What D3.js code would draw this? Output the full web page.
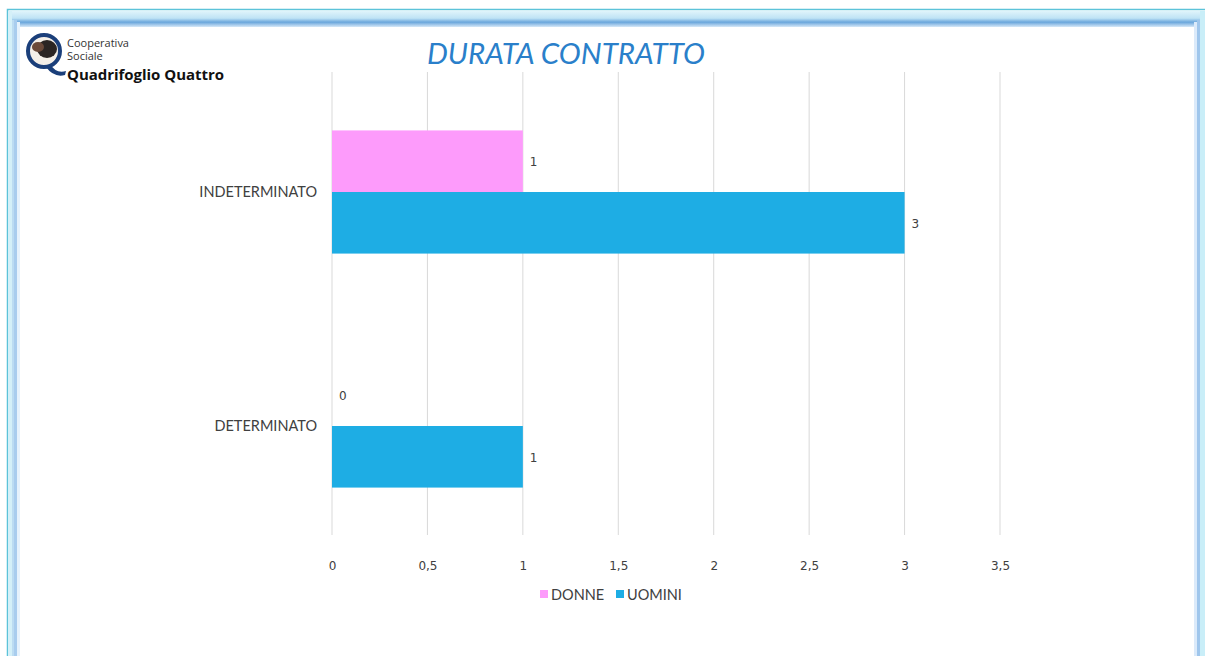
<!DOCTYPE html>
<html>
<head>
<meta charset="utf-8">
<script src="https://cdn.jsdelivr.net/npm/d3@7"></script>
<style>
  body { margin: 0; background: #fff; }
  svg { display: block; }
</style>
</head>
<body>
<script>
const categories = ['INDETERMINATO', 'DETERMINATO']
const series = ['DONNE', 'UOMINI']
const donne = [1, 0]
const uomini = [3, 1]
const xTicks = [0, 0.5, 1, 1.5, 2, 2.5, 3, 3.5]
const colors = ['#fd9bfb', '#1eade4']

const m = { width: 1205, height: 656 }
const plot = { left: 332, right: 1000, top: 75, bottom: 543 }

const svg = d3.select('body').append('svg')
    .attr('width', m.width)
    .attr('height', m.height)

// frame
const defs = svg.append('defs')
const gTop = defs.append('linearGradient').attr('id', 'gtop').attr('x1', 0).attr('y1', 0).attr('x2', 0).attr('y2', 1)
gTop.append('stop').attr('offset', '0%').attr('stop-color', '#dff4fb')
gTop.append('stop').attr('offset', '45%').attr('stop-color', '#bfe3f5')
gTop.append('stop').attr('offset', '70%').attr('stop-color', '#6aa6dc')
gTop.append('stop').attr('offset', '100%').attr('stop-color', '#d6e8f8')

svg.append('rect').attr('x', 7.5).attr('y', 9.5).attr('width', 1210).attr('height', 700)
    .attr('fill', 'none').attr('stroke', '#5cc3d9').attr('stroke-width', 1.5)
svg.append('rect').attr('x', 8).attr('y', 11).attr('width', 1200).attr('height', 16)
    .attr('fill', 'url(#gtop)')
// left border bands
svg.append('rect').attr('x', 8).attr('y', 11).attr('width', 4).attr('height', 650).attr('fill', '#d4f0f8')
svg.append('rect').attr('x', 12).attr('y', 20).attr('width', 2).attr('height', 650).attr('fill', '#bcdcf2')
svg.append('rect').attr('x', 14).attr('y', 20).attr('width', 3).attr('height', 650).attr('fill', '#a9cdee')
svg.append('rect').attr('x', 17).attr('y', 22).attr('width', 3).attr('height', 650).attr('fill', '#e6f2fc')
// right border bands
svg.append('rect').attr('x', 1194).attr('y', 22).attr('width', 3).attr('height', 650).attr('fill', '#dbeafa')
svg.append('rect').attr('x', 1197).attr('y', 20).attr('width', 3).attr('height', 650).attr('fill', '#9fc6ec')
svg.append('rect').attr('x', 1200).attr('y', 11).attr('width', 5).attr('height', 650).attr('fill', '#c9eef8')
svg.append('rect').attr('x', 20).attr('y', 27).attr('width', 1174).attr('height', 640).attr('fill', '#fff')

// logo
const logo = svg.append('g')
logo.append('path').attr('d', 'M50,64 Q56,74 66,71 L65,75 Q54,78 46,67 Z').attr('fill', '#1b3f7a')
logo.append('circle').attr('cx', 44).attr('cy', 51).attr('r', 16)
    .attr('fill', '#f4efe8').attr('stroke', '#1b3f7a').attr('stroke-width', 4)
logo.append('ellipse').attr('cx', 47).attr('cy', 49).attr('rx', 10).attr('ry', 9).attr('fill', '#2b2523')
logo.append('ellipse').attr('cx', 38).attr('cy', 47).attr('rx', 6).attr('ry', 5).attr('fill', '#6b4a3a')
logo.append('text').attr('x', 67).attr('y', 47).text('Cooperativa')
    .attr('font-family', 'Open Sans, sans-serif').attr('font-size', 11).attr('fill', '#333')
logo.append('text').attr('x', 67).attr('y', 60).text('Sociale')
    .attr('font-family', 'Open Sans, sans-serif').attr('font-size', 11).attr('fill', '#333')
logo.append('text').attr('x', 67).attr('y', 79.5).text('Quadrifoglio Quattro')
    .attr('font-family', 'Open Sans, sans-serif').attr('font-weight', 'bold').attr('font-size', 15)
    .attr('textLength', 157).attr('fill', '#111')

// title
svg.append('text').attr('x', 566).attr('y', 64).attr('text-anchor', 'middle')
    .attr('font-family', 'Lato, sans-serif').attr('font-style', 'italic').attr('font-size', 29.5)
    .attr('fill', '#2a7fca').text('DURATA CONTRATTO')

const x = d3.scaleLinear().domain([0, 3.5]).range([plot.left, plot.right])
const y0 = d3.scaleBand().domain(categories).range([plot.top, plot.bottom])
const y1 = d3.scaleBand().domain(series).range([0, y0.bandwidth()]).paddingOuter(0.9)

// gridlines
svg.append('g').selectAll('line').data(xTicks).enter().append('line')
    .attr('x1', d => x(d)).attr('x2', d => x(d))
    .attr('y1', 72).attr('y2', 535)
    .attr('stroke', '#d9d9d9').attr('stroke-width', 1)

// x axis labels
const xAxis = d3.axisBottom(x).tickValues(xTicks).tickSize(0)
    .tickFormat(d => String(d).replace('.', ','))
const xa = svg.append('g').attr('transform', 'translate(0,' + 558 + ')').call(xAxis)
xa.select('.domain').remove()
xa.selectAll('text').attr('font-family', 'DejaVu Sans, sans-serif').attr('font-size', 12).attr('fill', '#404040')

// y axis labels
const yAxis = d3.axisLeft(y0).tickSize(0).tickPadding(15)
const ya = svg.append('g').attr('transform', 'translate(' + plot.left + ',0)').call(yAxis)
ya.select('.domain').remove()
ya.selectAll('text').attr('font-family', 'Lato, sans-serif').attr('font-size', 14.5).attr('fill', '#404040')

const rows = categories.map((c, i) => ({ cat: c, vals: [donne[i], uomini[i]] }))

const groups = svg.append('g').selectAll('g').data(rows).enter().append('g')
    .attr('transform', d => 'translate(0,' + y0(d.cat) + ')')

groups.selectAll('rect').data(d => d.vals.map((v, j) => ({ s: series[j], v: v, j: j })))
    .enter().append('rect')
    .attr('x', x(0))
    .attr('y', d => y1(d.s))
    .attr('width', d => x(d.v) - x(0))
    .attr('height', y1.bandwidth())
    .attr('fill', d => colors[d.j])

groups.selectAll('.lbl').data(d => d.vals.map((v, j) => ({ s: series[j], v: v })))
    .enter().append('text').attr('class', 'lbl')
    .attr('x', d => x(d.v) + 7)
    .attr('y', d => y1(d.s) + y1.bandwidth() / 2 + 5)
    .attr('font-family', 'DejaVu Sans, sans-serif').attr('font-size', 12).attr('fill', '#404040')
    .text(d => d.v)

// legend
const legend = svg.append('g').attr('transform', 'translate(540,590)')
const li = legend.selectAll('g').data(series).enter().append('g')
    .attr('transform', (d, i) => 'translate(' + (i * 76) + ',0)')
li.append('rect').attr('width', 8).attr('height', 8).attr('y', 0).attr('fill', (d, i) => colors[i])
li.append('text').attr('x', 11).attr('y', 9.5).text(d => d)
    .attr('font-family', 'Lato, sans-serif').attr('font-size', 14.5).attr('fill', '#404040')
</script>
</body>
</html>
